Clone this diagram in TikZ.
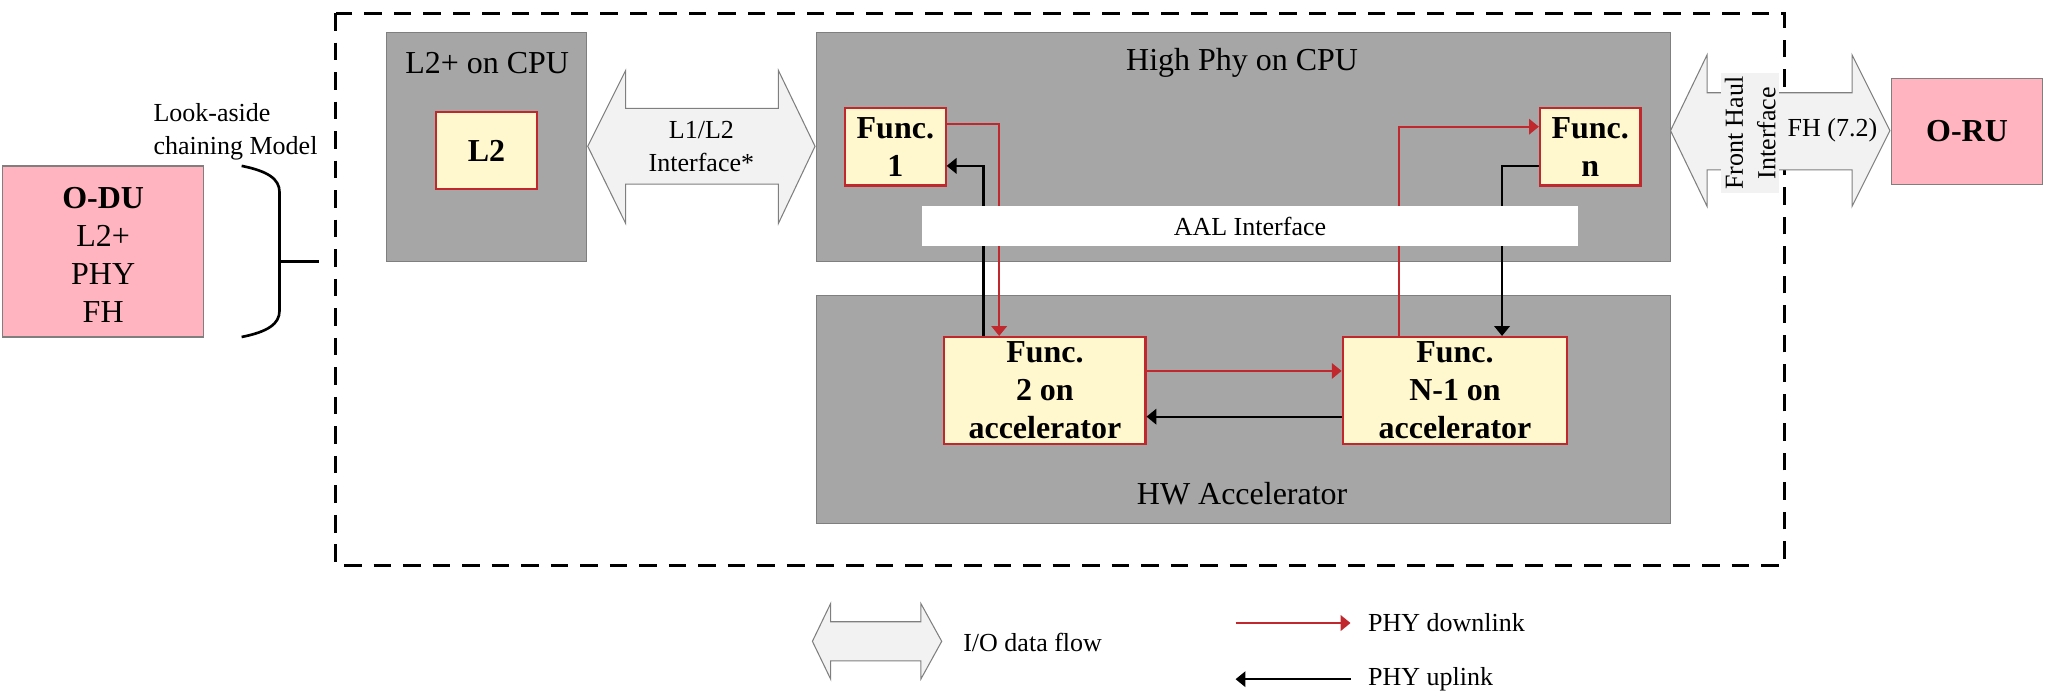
\documentclass[tikz,border=0pt]{standalone}
\usepackage{fontspec}
\setmainfont{Liberation Serif}
\usetikzlibrary{arrows.meta,fit}

\definecolor{cpugray}{HTML}{A6A6A6}
\definecolor{boxline}{HTML}{7F7F7F}
\definecolor{funcred}{HTML}{C0282D}
\definecolor{funcyellow}{HTML}{FFF8CE}
\definecolor{rupink}{HTML}{FFB4BF}
\definecolor{ioflowfill}{HTML}{F2F2F2}

\newcommand{\smallsz}{\fontsize{7.4pt}{9.3pt}\selectfont}
\newcommand{\largesz}{\fontsize{9.1pt}{10.8pt}\selectfont}

\begin{document}
\begin{tikzpicture}[
			x=0.013061cm, y=-0.013061cm,
			cpubox/.style={draw=boxline, fill=cpugray, line width=0.35pt, inner sep=0pt},
			funcbox/.style={draw=funcred, fill=funcyellow, line width=0.6pt, inner sep=0pt},
			functext/.style={inner sep=0pt, align=center, font=\largesz\bfseries},
			pinkbox/.style={draw=boxline, fill=rupink, line width=0.35pt, inner sep=0pt},
			aalband/.style={fill=white, inner sep=0pt},
			title/.style={font=\largesz, inner sep=0pt, align=center},
			lbl/.style={font=\smallsz, inner sep=0pt, align=center},
			ioflow/.style={draw=boxline, fill=ioflowfill, line width=0.3pt},
			downlink/.style={draw=funcred, line width=0.6pt, -{Triangle[length=2.8pt, width=4.4pt]}},
			uplink/.style={draw=black, line width=0.6pt, -{Triangle[length=2.8pt, width=4.4pt]}},
			frame/.style={dash pattern=on 5pt off 3.4pt, line width=0.85pt},
			bracket/.style={line width=0.75pt},
			]
			\useasboundingbox (0,0) rectangle (1568,532);

			% --- Outer dashed frame ---
			\draw[frame] (257,10) rectangle (1366,433);

			% --- O-DU with the look-aside brace ---
			\node[pinkbox, fit={(2,127) (156,258)}] (odu) {};
			\node[title] (odutext) at ([yshift=-1pt]odu.center) {\textbf{O-DU}\\L2+\\PHY\\FH};
			\node[lbl, anchor=west, align=left] (lookaside) at (117,101) {Look-aside\\chaining Model};
			\draw[bracket] (185,127) .. controls (205,131) and (214,137) .. (214,147) -- (214,238) .. controls (214,248) and (205,254) .. (185,258);
			\draw[bracket] (214,200) -- (244,200);

			% --- L2+ on CPU ---
			\node[cpubox, fit={(296,25) (449,200)}] (l2cpu) {};
			\node[title] (l2cputitle) at (373,48) {L2+ on CPU};
			\node[funcbox, fit={(334,86) (411,145)}] (l2) {};
			\node[functext] (l2text) at (l2.center) {L2};

			% --- High Phy and HW accelerator ---
			\node[cpubox, fit={(625,25) (1279,200)}] (highphy) {};
			\node[title] (highphytitle) at (951,48) {High Phy on CPU};
			\node[cpubox, fit={(625,226) (1279,401)}] (hwacc) {};
			\node[title] (hwacctitle) at (951,378) {HW Accelerator};

			% --- Functions ---
			\node[funcbox, fit={(647,83) (724,142)}] (f1) {};
			\node[funcbox, fit={(1179,83) (1256,142)}] (fn) {};
			\node[funcbox, fit={(723,258) (877,340)}] (f2) {};
			\node[funcbox, fit={(1028,258) (1200,340)}] (fN1) {};
			\node[functext] (f1text) at (f1.center) {Func.\\1};
			\node[functext] (fntext) at (fn.center) {Func.\\n};
			\node[functext] (f2text) at (f2.center) {Func.\\2 on\\accelerator};
			\node[functext] (fN1text) at (fN1.center) {Func.\\N-1 on\\accelerator};

			% --- Chaining connectors ---
			\coordinate (dlA) at (765,95);
			\coordinate (ulA) at (753,127);
			\coordinate (dlB) at (1071,97);
			\coordinate (ulB) at (1150,127);
			\coordinate (dlC) at (950,284);
			\coordinate (ulC) at (950,319);
			\draw[downlink] (f1.east |- dlA) -| (f2.north -| dlA);
			\draw[uplink] (f2.north -| ulA) |- (f1.east |- ulA);
			\draw[downlink] (f2.east |- dlC) -- (fN1.west |- dlC);
			\draw[uplink] (fN1.west |- ulC) -- (f2.east |- ulC);
			\draw[downlink] (fN1.north -| dlB) |- (fn.west |- dlB);
			\draw[uplink] (fn.west |- ulB) -| (fN1.north -| ulB);

			% AAL band sits over the connectors
			\node[aalband, fit={(706,158) (1208,188)}] (aal) {};
			\node[lbl] (aaltext) at (aal.center) {AAL Interface};

			% --- L1/L2 interface ---
			\draw[ioflow] (450,112) -- (479,54) -- (479,83) -- (596,83) -- (596,54) -- (624,112) -- (596,171) -- (596,141) -- (479,141) -- (479,171) -- cycle;
			\node[lbl] (l1l2) at (537,112) {L1/L2\\Interface*};

			% --- Front haul and O-RU ---
			\draw[ioflow] (1279,100) -- (1307,42) -- (1307,71) -- (1418,71) -- (1418,42) -- (1447,100) -- (1418,158) -- (1418,130) -- (1307,130) -- (1307,158) -- cycle;
			\node[lbl, rotate=90, fill=ioflowfill, inner sep=1pt] (fhif) at (1340,102) {Front Haul\\Interface};
			\node[lbl] (fh72) at (1403,100) {FH (7.2)};
			\node[pinkbox, fit={(1448,60) (1564,141)}] (oru) {};
			\node[functext] (orutext) at (oru.center) {O-RU};

			% --- Legend ---
			\draw[ioflow] (622,491) -- (636,462) -- (636,476) -- (705,476) -- (705,462) -- (721,491) -- (705,520) -- (705,506) -- (636,506) -- (636,520) -- cycle;
			\node[lbl, anchor=west] (iokey) at (737,492) {I/O data flow};
			\coordinate (dlkeyS) at (946,477);
			\node[lbl, anchor=west, inner xsep=4.8pt] (dlkey) at (1034,477) {PHY downlink};
			\draw[downlink] (dlkeyS) -- (dlkey.west);
			\coordinate (ulkeyE) at (946,520);
			\node[lbl, anchor=west, inner xsep=4.8pt] (ulkey) at (1034,520) {PHY uplink};
			\draw[uplink] (ulkey.west) -- (ulkeyE);

		\end{tikzpicture}
\end{document}
